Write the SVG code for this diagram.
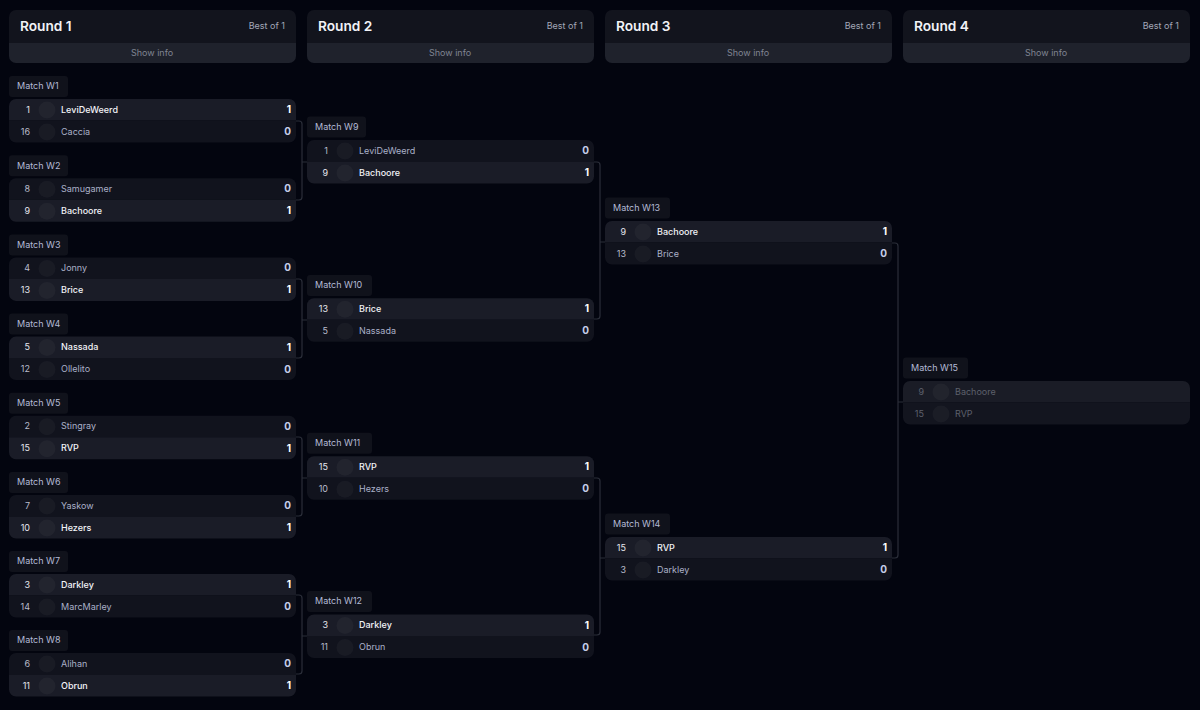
<svg xmlns="http://www.w3.org/2000/svg" width="1200" height="710" viewBox="0 0 1200 710">
<style>
text{font-family:Inter,"Liberation Sans",sans-serif;font-size:9px}
.rt{font-size:13.7px;font-weight:600;fill:#f1f2f6}
.bo{fill:#a3a8b8;text-anchor:end}
.si{fill:#7f8492;text-anchor:middle}
.hd{fill:#12141d}.hb{fill:#1f222c}
.lb{fill:#10121b}.lt{fill:#b4bbd6}
.w{fill:#1a1c27}.l{fill:#11131d}
.av{fill:#fff;fill-opacity:.035}
.sd{text-anchor:end;fill:#b9bccb}
.sw{text-anchor:end;fill:#e6e7ee}
.nw{fill:#f2f3f7;font-weight:500}
.nl{fill:#aab0c8;font-weight:400}
.ss{text-anchor:end;font-weight:700;font-size:10px}
.s1{fill:#ffffff}.s0{fill:#c5cde8}
.c{fill:none;stroke:#2b2e39;stroke-width:1.2}
.p1{fill:#1a1c26}.p2{fill:#13151f}
.pt{fill:#5d606c}
</style>
<defs>
<path id="top" d="M0 21.5V7a7 7 0 0 1 7-7H280a7 7 0 0 1 7 7V21.5Z"/>
<path id="bot" d="M0 22V0H287V15a7 7 0 0 1-7 7H7a7 7 0 0 1-7-7Z"/>
<circle id="av" cx="38" r="8.5"/>
</defs>
<rect width="1200" height="710" fill="#03050f"/>
<g id="connectors">
<path class="c" d="M296 121H299a3 3 0 0 1 3 3V197a3 3 0 0 1-3 3H296M302 162H307"/>
<path class="c" d="M296 279H299a3 3 0 0 1 3 3V355a3 3 0 0 1-3 3H296M302 320H307"/>
<path class="c" d="M296 437H299a3 3 0 0 1 3 3V513a3 3 0 0 1-3 3H296M302 478H307"/>
<path class="c" d="M296 595H299a3 3 0 0 1 3 3V671a3 3 0 0 1-3 3H296M302 636H307"/>
<path class="c" d="M594 162H597a3 3 0 0 1 3 3V316a3 3 0 0 1-3 3H594M600 242H605"/>
<path class="c" d="M594 478H597a3 3 0 0 1 3 3V632a3 3 0 0 1-3 3H594M600 558H605"/>
<path class="c" d="M892 243H895a3 3 0 0 1 3 3V555a3 3 0 0 1-3 3H892M898 402H903"/>
</g>
<g id="round-1" transform="translate(9 10)"><path class="hd" d="M0 33V7a7 7 0 0 1 7-7H280a7 7 0 0 1 7 7V33Z"/><path class="hb" d="M0 33H287V46a7 7 0 0 1-7 7H7a7 7 0 0 1-7-7Z"/><text class="rt" x="11" y="21">Round 1</text><text class="bo" x="276" y="19.3">Best of 1</text><text class="si" x="143" y="46.3">Show info</text></g>
<g id="round-2" transform="translate(307 10)"><path class="hd" d="M0 33V7a7 7 0 0 1 7-7H280a7 7 0 0 1 7 7V33Z"/><path class="hb" d="M0 33H287V46a7 7 0 0 1-7 7H7a7 7 0 0 1-7-7Z"/><text class="rt" x="11" y="21">Round 2</text><text class="bo" x="276" y="19.3">Best of 1</text><text class="si" x="143" y="46.3">Show info</text></g>
<g id="round-3" transform="translate(605 10)"><path class="hd" d="M0 33V7a7 7 0 0 1 7-7H280a7 7 0 0 1 7 7V33Z"/><path class="hb" d="M0 33H287V46a7 7 0 0 1-7 7H7a7 7 0 0 1-7-7Z"/><text class="rt" x="11" y="21">Round 3</text><text class="bo" x="276" y="19.3">Best of 1</text><text class="si" x="143" y="46.3">Show info</text></g>
<g id="round-4" transform="translate(903 10)"><path class="hd" d="M0 33V7a7 7 0 0 1 7-7H280a7 7 0 0 1 7 7V33Z"/><path class="hb" d="M0 33H287V46a7 7 0 0 1-7 7H7a7 7 0 0 1-7-7Z"/><text class="rt" x="11" y="21">Round 4</text><text class="bo" x="276" y="19.3">Best of 1</text><text class="si" x="143" y="46.3">Show info</text></g>

<g id="w1" transform="translate(9 99)"><rect class="lb" y="-23" width="59" height="21" rx="3"/><text class="lt" x="8" y="-9.7">Match W1</text><use href="#top" class="w"/><use href="#bot" y="21.5" class="l"/><use href="#av" y="11" class="av"/><use href="#av" y="33" class="av"/><text class="sw" x="21" y="13.5">1</text><text class="nw" x="52" y="13.5">LeviDeWeerd</text><text class="ss s1" x="282" y="14">1</text><text class="sd" x="21" y="35.5">16</text><text class="nl" x="52" y="35.5">Caccia</text><text class="ss s0" x="282" y="36">0</text></g>
<g id="w2" transform="translate(9 178.2)"><rect class="lb" y="-23" width="59" height="21" rx="3"/><text class="lt" x="8" y="-9.7">Match W2</text><use href="#top" class="l"/><use href="#bot" y="21.5" class="w"/><use href="#av" y="11" class="av"/><use href="#av" y="33" class="av"/><text class="sd" x="21" y="13.5">8</text><text class="nl" x="52" y="13.5">Samugamer</text><text class="ss s0" x="282" y="14">0</text><text class="sw" x="21" y="35.5">9</text><text class="nw" x="52" y="35.5">Bachoore</text><text class="ss s1" x="282" y="36">1</text></g>
<g id="w3" transform="translate(9 257.4)"><rect class="lb" y="-23" width="59" height="21" rx="3"/><text class="lt" x="8" y="-9.7">Match W3</text><use href="#top" class="l"/><use href="#bot" y="21.5" class="w"/><use href="#av" y="11" class="av"/><use href="#av" y="33" class="av"/><text class="sd" x="21" y="13.5">4</text><text class="nl" x="52" y="13.5">Jonny</text><text class="ss s0" x="282" y="14">0</text><text class="sw" x="21" y="35.5">13</text><text class="nw" x="52" y="35.5">Brice</text><text class="ss s1" x="282" y="36">1</text></g>
<g id="w4" transform="translate(9 336.6)"><rect class="lb" y="-23" width="59" height="21" rx="3"/><text class="lt" x="8" y="-9.7">Match W4</text><use href="#top" class="w"/><use href="#bot" y="21.5" class="l"/><use href="#av" y="11" class="av"/><use href="#av" y="33" class="av"/><text class="sw" x="21" y="13.5">5</text><text class="nw" x="52" y="13.5">Nassada</text><text class="ss s1" x="282" y="14">1</text><text class="sd" x="21" y="35.5">12</text><text class="nl" x="52" y="35.5">Ollelito</text><text class="ss s0" x="282" y="36">0</text></g>
<g id="w5" transform="translate(9 415.8)"><rect class="lb" y="-23" width="59" height="21" rx="3"/><text class="lt" x="8" y="-9.7">Match W5</text><use href="#top" class="l"/><use href="#bot" y="21.5" class="w"/><use href="#av" y="11" class="av"/><use href="#av" y="33" class="av"/><text class="sd" x="21" y="13.5">2</text><text class="nl" x="52" y="13.5">Stingray</text><text class="ss s0" x="282" y="14">0</text><text class="sw" x="21" y="35.5">15</text><text class="nw" x="52" y="35.5">RVP</text><text class="ss s1" x="282" y="36">1</text></g>
<g id="w6" transform="translate(9 495)"><rect class="lb" y="-23" width="59" height="21" rx="3"/><text class="lt" x="8" y="-9.7">Match W6</text><use href="#top" class="l"/><use href="#bot" y="21.5" class="w"/><use href="#av" y="11" class="av"/><use href="#av" y="33" class="av"/><text class="sd" x="21" y="13.5">7</text><text class="nl" x="52" y="13.5">Yaskow</text><text class="ss s0" x="282" y="14">0</text><text class="sw" x="21" y="35.5">10</text><text class="nw" x="52" y="35.5">Hezers</text><text class="ss s1" x="282" y="36">1</text></g>
<g id="w7" transform="translate(9 574)"><rect class="lb" y="-23" width="59" height="21" rx="3"/><text class="lt" x="8" y="-9.7">Match W7</text><use href="#top" class="w"/><use href="#bot" y="21.5" class="l"/><use href="#av" y="11" class="av"/><use href="#av" y="33" class="av"/><text class="sw" x="21" y="13.5">3</text><text class="nw" x="52" y="13.5">Darkley</text><text class="ss s1" x="282" y="14">1</text><text class="sd" x="21" y="35.5">14</text><text class="nl" x="52" y="35.5">MarcMarley</text><text class="ss s0" x="282" y="36">0</text></g>
<g id="w8" transform="translate(9 653)"><rect class="lb" y="-23" width="59" height="21" rx="3"/><text class="lt" x="8" y="-9.7">Match W8</text><use href="#top" class="l"/><use href="#bot" y="21.5" class="w"/><use href="#av" y="11" class="av"/><use href="#av" y="33" class="av"/><text class="sd" x="21" y="13.5">6</text><text class="nl" x="52" y="13.5">Alihan</text><text class="ss s0" x="282" y="14">0</text><text class="sw" x="21" y="35.5">11</text><text class="nw" x="52" y="35.5">Obrun</text><text class="ss s1" x="282" y="36">1</text></g>

<g id="w9" transform="translate(307 140)"><rect class="lb" y="-23.4" width="59" height="21" rx="3"/><text class="lt" x="8" y="-10.1">Match W9</text><use href="#top" class="l"/><use href="#bot" y="21.5" class="w"/><use href="#av" y="11" class="av"/><use href="#av" y="33" class="av"/><text class="sd" x="21" y="13.5">1</text><text class="nl" x="52" y="13.5">LeviDeWeerd</text><text class="ss s0" x="282" y="14">0</text><text class="sw" x="21" y="35.5">9</text><text class="nw" x="52" y="35.5">Bachoore</text><text class="ss s1" x="282" y="36">1</text></g>
<g id="w10" transform="translate(307 298.3)"><rect class="lb" y="-23.4" width="65" height="21" rx="3"/><text class="lt" x="8" y="-10.1">Match W10</text><use href="#top" class="w"/><use href="#bot" y="21.5" class="l"/><use href="#av" y="11" class="av"/><use href="#av" y="33" class="av"/><text class="sw" x="21" y="13.5">13</text><text class="nw" x="52" y="13.5">Brice</text><text class="ss s1" x="282" y="14">1</text><text class="sd" x="21" y="35.5">5</text><text class="nl" x="52" y="35.5">Nassada</text><text class="ss s0" x="282" y="36">0</text></g>
<g id="w11" transform="translate(307 456.2)"><rect class="lb" y="-23.4" width="65" height="21" rx="3"/><text class="lt" x="8" y="-10.1">Match W11</text><use href="#top" class="w"/><use href="#bot" y="21.5" class="l"/><use href="#av" y="11" class="av"/><use href="#av" y="33" class="av"/><text class="sw" x="21" y="13.5">15</text><text class="nw" x="52" y="13.5">RVP</text><text class="ss s1" x="282" y="14">1</text><text class="sd" x="21" y="35.5">10</text><text class="nl" x="52" y="35.5">Hezers</text><text class="ss s0" x="282" y="36">0</text></g>
<g id="w12" transform="translate(307 614.5)"><rect class="lb" y="-23.4" width="65" height="21" rx="3"/><text class="lt" x="8" y="-10.1">Match W12</text><use href="#top" class="w"/><use href="#bot" y="21.5" class="l"/><use href="#av" y="11" class="av"/><use href="#av" y="33" class="av"/><text class="sw" x="21" y="13.5">3</text><text class="nw" x="52" y="13.5">Darkley</text><text class="ss s1" x="282" y="14">1</text><text class="sd" x="21" y="35.5">11</text><text class="nl" x="52" y="35.5">Obrun</text><text class="ss s0" x="282" y="36">0</text></g>

<g id="w13" transform="translate(605 221)"><rect class="lb" y="-23.4" width="65" height="21" rx="3"/><text class="lt" x="8" y="-10.1">Match W13</text><use href="#top" class="w"/><use href="#bot" y="21.5" class="l"/><use href="#av" y="11" class="av"/><use href="#av" y="33" class="av"/><text class="sw" x="21" y="13.5">9</text><text class="nw" x="52" y="13.5">Bachoore</text><text class="ss s1" x="282" y="14">1</text><text class="sd" x="21" y="35.5">13</text><text class="nl" x="52" y="35.5">Brice</text><text class="ss s0" x="282" y="36">0</text></g>
<g id="w14" transform="translate(605 537)"><rect class="lb" y="-23.4" width="65" height="21" rx="3"/><text class="lt" x="8" y="-10.1">Match W14</text><use href="#top" class="w"/><use href="#bot" y="21.5" class="l"/><use href="#av" y="11" class="av"/><use href="#av" y="33" class="av"/><text class="sw" x="21" y="13.5">15</text><text class="nw" x="52" y="13.5">RVP</text><text class="ss s1" x="282" y="14">1</text><text class="sd" x="21" y="35.5">3</text><text class="nl" x="52" y="35.5">Darkley</text><text class="ss s0" x="282" y="36">0</text></g>

<g id="w15" transform="translate(903 381)"><rect class="lb" y="-23.4" width="65" height="21" rx="3"/><text class="lt" x="8" y="-10.1">Match W15</text><use href="#top" class="p1"/><use href="#bot" y="21.5" class="p2"/><use href="#av" y="11" class="av"/><use href="#av" y="33" class="av"/><text class="pt" text-anchor="end" x="21" y="13.5">9</text><text class="pt" x="52" y="13.5">Bachoore</text><text class="pt" text-anchor="end" x="21" y="35.5">15</text><text class="pt" x="52" y="35.5">RVP</text></g>
</svg>
